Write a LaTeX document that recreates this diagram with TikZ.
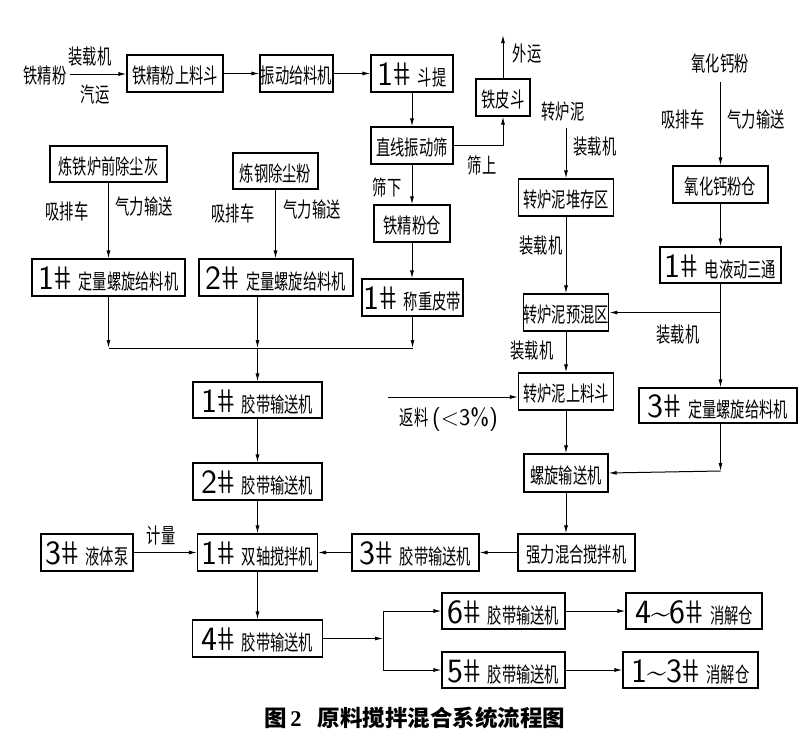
\documentclass[tikz,border=0pt]{standalone}
\usepackage{fontspec}
\usepackage{graphicx}
\newfontfamily\cjk{Noto Sans CJK SC}[FakeStretch=0.68]
\newfontfamily\cjkcap{Noto Sans CJK SC}
\newfontfamily\capserif{Liberation Serif}
\newfontfamily\hashfont{Liberation Sans}[FakeSlant=-0.22]
\usetikzlibrary{arrows.meta}
\newcommand\dg[1]{{\sffamily\fontsize{34}{34}\selectfont #1}}
\newcommand\hs{\kern2.5pt\scalebox{0.85}[1]{{\hashfont\fontsize{33}{33}\selectfont\#}}}
\newcommand\gap{\hspace{6pt}}
\tikzset{
  box/.style={draw, line width=1.1pt, inner sep=0pt, minimum height=37pt,
    text height=20pt, text depth=0pt, font=\cjk\fontsize{21}{21}\selectfont},
  nbox/.style={box, text height=24pt},
  lab/.style={font=\cjk\fontsize{21}{21}\selectfont, inner sep=1pt},
  arr/.style={-{Latex[length=8pt,width=4pt]}, line width=1pt},
  ln/.style={line width=1pt}
}
\begin{document}
\begin{tikzpicture}[x=1pt,y=-1pt]
\fill[white] (0,0) rectangle (800,742);
\useasboundingbox (0,0) rectangle (800,742);

% ---- top row
\node[lab] (tjf) at (45,76) {铁精粉};
\node[lab] (zzj0) at (90,57) {装载机};
\node[lab] (qy) at (95,95) {汽运};
\node[box,minimum width=96pt] (tjfh) at (175,73.5) {铁精粉上料斗};
\node[box,minimum width=73pt] (zdgl) at (296.5,73.5) {振动给料机};
\node[nbox,minimum width=82pt] (dt) at (412,73.5) {\dg{1\hs}\gap 斗提};
\node[box,minimum width=54pt] (tpd) at (503,97.5) {铁皮斗};
\node[lab] (wyl) at (527,54) {外运};
\node[box,minimum width=82pt] (zxs) at (412,145.5) {直线振动筛};
\node[lab] (ssl) at (482,165) {筛上};
\node[lab] (sxl) at (387,187) {筛下};
\node[box,minimum width=76pt] (tjfc) at (412,223.5) {铁精粉仓};
\node[nbox,minimum width=101pt] (czpd) at (412.5,297.5) {\dg{1\hs}\gap 称重皮带};

% ---- left sources
\node[box,minimum width=117pt,minimum height=36pt] (ltl) at (108.5,164) {炼铁炉前除尘灰};
\node[lab] (xp1) at (67,211) {吸排车};
\node[lab] (ql1) at (144,207) {气力输送};
\node[box,minimum width=85pt,minimum height=36pt] (lgc) at (275.5,171) {炼钢除尘粉};
\node[lab] (xp2) at (233,213) {吸排车};
\node[lab] (ql2) at (312,210) {气力输送};
\node[nbox,minimum width=153pt] (dl1) at (108.5,277.5) {\dg{1\hs}\gap 定量螺旋给料机};
\node[nbox,minimum width=154pt] (dl2) at (276,277.5) {\dg{2\hs}\gap 定量螺旋给料机};

% ---- main column
\node[nbox,minimum width=129pt,minimum height=36pt] (jd1) at (257.5,400) {\dg{1\hs}\gap 胶带输送机};
\node[nbox,minimum width=129pt] (jd2) at (257.5,481.5) {\dg{2\hs}\gap 胶带输送机};
\node[nbox,minimum width=120pt] (szj) at (257.5,552.5) {\dg{1\hs}\gap 双轴搅拌机};
\node[nbox,minimum width=92pt] (ytb) at (87,552.5) {\dg{3\hs}\gap 液体泵};
\node[lab] (jl) at (161,536) {计量};
\node[nbox,minimum width=127pt] (jd3) at (415.5,552.5) {\dg{3\hs}\gap 胶带输送机};
\node[box,minimum width=117pt] (qlh) at (576.5,552.5) {强力混合搅拌机};
\node[nbox,minimum width=130pt] (jd4) at (257.5,638.5) {\dg{4\hs}\gap 胶带输送机};
\node[nbox,minimum width=123pt,minimum height=36pt] (jd6) at (503.5,611) {\dg{6\hs}\gap 胶带输送机};
\node[nbox,minimum width=123pt,minimum height=36pt] (jd5) at (503.5,670) {\dg{5\hs}\gap 胶带输送机};
\node[nbox,minimum width=136pt,minimum height=36pt] (xj46) at (694,611) {\dg{4\textasciitilde 6\hs}\gap 消解仓};
\node[nbox,minimum width=135pt,minimum height=36pt] (xj13) at (690.5,670) {\dg{1\textasciitilde 3\hs}\gap 消解仓};

% ---- converter sludge column
\node[lab] (zln) at (563,112) {转炉泥};
\node[lab] (zz1) at (595,147) {装载机};
\node[box,minimum width=95pt] (zlnd) at (566,197.5) {转炉泥堆存区};
\node[lab] (zz2) at (541,246) {装载机};
\node[box,minimum width=84pt] (zlny) at (566,312.5) {转炉泥预混区};
\node[lab] (zz3) at (532,351) {装载机};
\node[lab] (zz4) at (678,335) {装载机};
\node[box,minimum width=95pt] (zlns) at (566,391.5) {转炉泥上料斗};
\node[lab] (fll) at (449,420) {返料\,{\sffamily\fontsize{24}{24}\selectfont(<3\%)}};
\node[box,minimum width=84pt,minimum height=38pt] (lxss) at (566,473) {螺旋输送机};

% ---- lime column
\node[lab] (ythf) at (720,64) {氧化钙粉};
\node[lab] (xp3) at (683,119) {吸排车};
\node[lab] (ql3) at (756,120) {气力输送};
\node[box,minimum width=95pt] (ythc) at (720.5,184.5) {氧化钙粉仓};
\node[nbox,minimum width=121pt,minimum height=36pt] (ddst) at (720.5,265) {\dg{1\hs}\gap 电液动三通};
\node[nbox,minimum width=158pt,minimum height=35pt] (dl3) at (718,405.5) {\dg{3\hs}\gap 定量螺旋给料机};

% ---- caption
\node[font=\cjkcap\bfseries\fontsize{22.5}{22.5}\selectfont, inner sep=0pt] (cap) at (415,718)
  {图\hspace{3pt}{\capserif\bfseries 2}\hspace{16pt}原料搅拌混合系统流程图};

% ---- coordinates
\coordinate (s0) at (70,74);
\coordinate (wy) at (503,35);
\coordinate (b1) at (108.5,348);
\coordinate (b2) at (257.5,348);
\coordinate (b3) at (412.5,348);
\coordinate (b4) at (383,638.5);
\coordinate (b5) at (383,611);
\coordinate (b6) at (383,670);
\coordinate (z0) at (566,128);
\coordinate (fl) at (388,397);
\coordinate (y0) at (720.5,82);
\coordinate (j1) at (720.5,312.5);
\coordinate (j2) at (720.5,471);

% ---- connectors
\draw[arr] (s0) -- (s0 -| tjfh.west);
\draw[arr] (tjfh) -- (zdgl);
\draw[arr] (zdgl) -- (dt);
\draw[arr] (dt.south) -- (dt.south |- zxs.north);
\draw[arr] (zxs.east) -| (tpd.south);
\draw[arr] (tpd.north) -- (wy);
\draw[arr] (zxs.south) -- (zxs.south |- tjfc.north);
\draw[arr] (tjfc.south) -- (tjfc.south |- czpd.north);
\draw[arr] (czpd.south) -- (b3);

\draw[arr] (ltl.south) -- (ltl.south |- dl1.north);
\draw[arr] (lgc.south) -- (lgc.south |- dl2.north);
\draw[arr] (dl1.south) -- (b1);
\draw[arr] (b2 |- dl2.south) -- (b2);
\draw[ln] (b1) -- (b3);
\draw[arr] (b2) -- (jd1.north);
\draw[arr] (jd1.south) -- (jd1.south |- jd2.north);
\draw[arr] (jd2.south) -- (jd2.south |- szj.north);
\draw[arr] (szj.south) -- (szj.south |- jd4.north);
\draw[arr] (ytb.east) -- (szj.west);
\draw[arr] (jd3.west) -- (szj.east);
\draw[arr] (qlh.west) -- (jd3.east);
\draw[arr] (jd4.east) -- (b4);
\draw[ln] (b5) -- (b6);
\draw[arr] (b5) -- (jd6.west);
\draw[arr] (b6) -- (jd5.west);
\draw[arr] (jd6.east) -- (xj46.west);
\draw[arr] (jd5.east) -- (xj13.west);

\draw[arr] (z0) -- (zlnd.north);
\draw[arr] (zlnd.south) -- (zlny.north);
\draw[arr] (zlny.south) -- (zlns.north);
\draw[arr] (zlns.south) -- (lxss.north);
\draw[arr] (lxss.south) -- (lxss.south |- qlh.north);
\draw[arr] (fl) -- (fl -| zlns.west);

\draw[arr] (y0) -- (ythc.north);
\draw[arr] (ythc.south) -- (ddst.north);
\draw[arr] (ddst.south) -- (ddst.south |- dl3.north);
\draw[arr] (j1) -- (zlny.east);
\draw[arr] (ddst.south |- dl3.south) -- (j2);
\draw[arr] (j2) -- (lxss.east);
\end{tikzpicture}
\end{document}
